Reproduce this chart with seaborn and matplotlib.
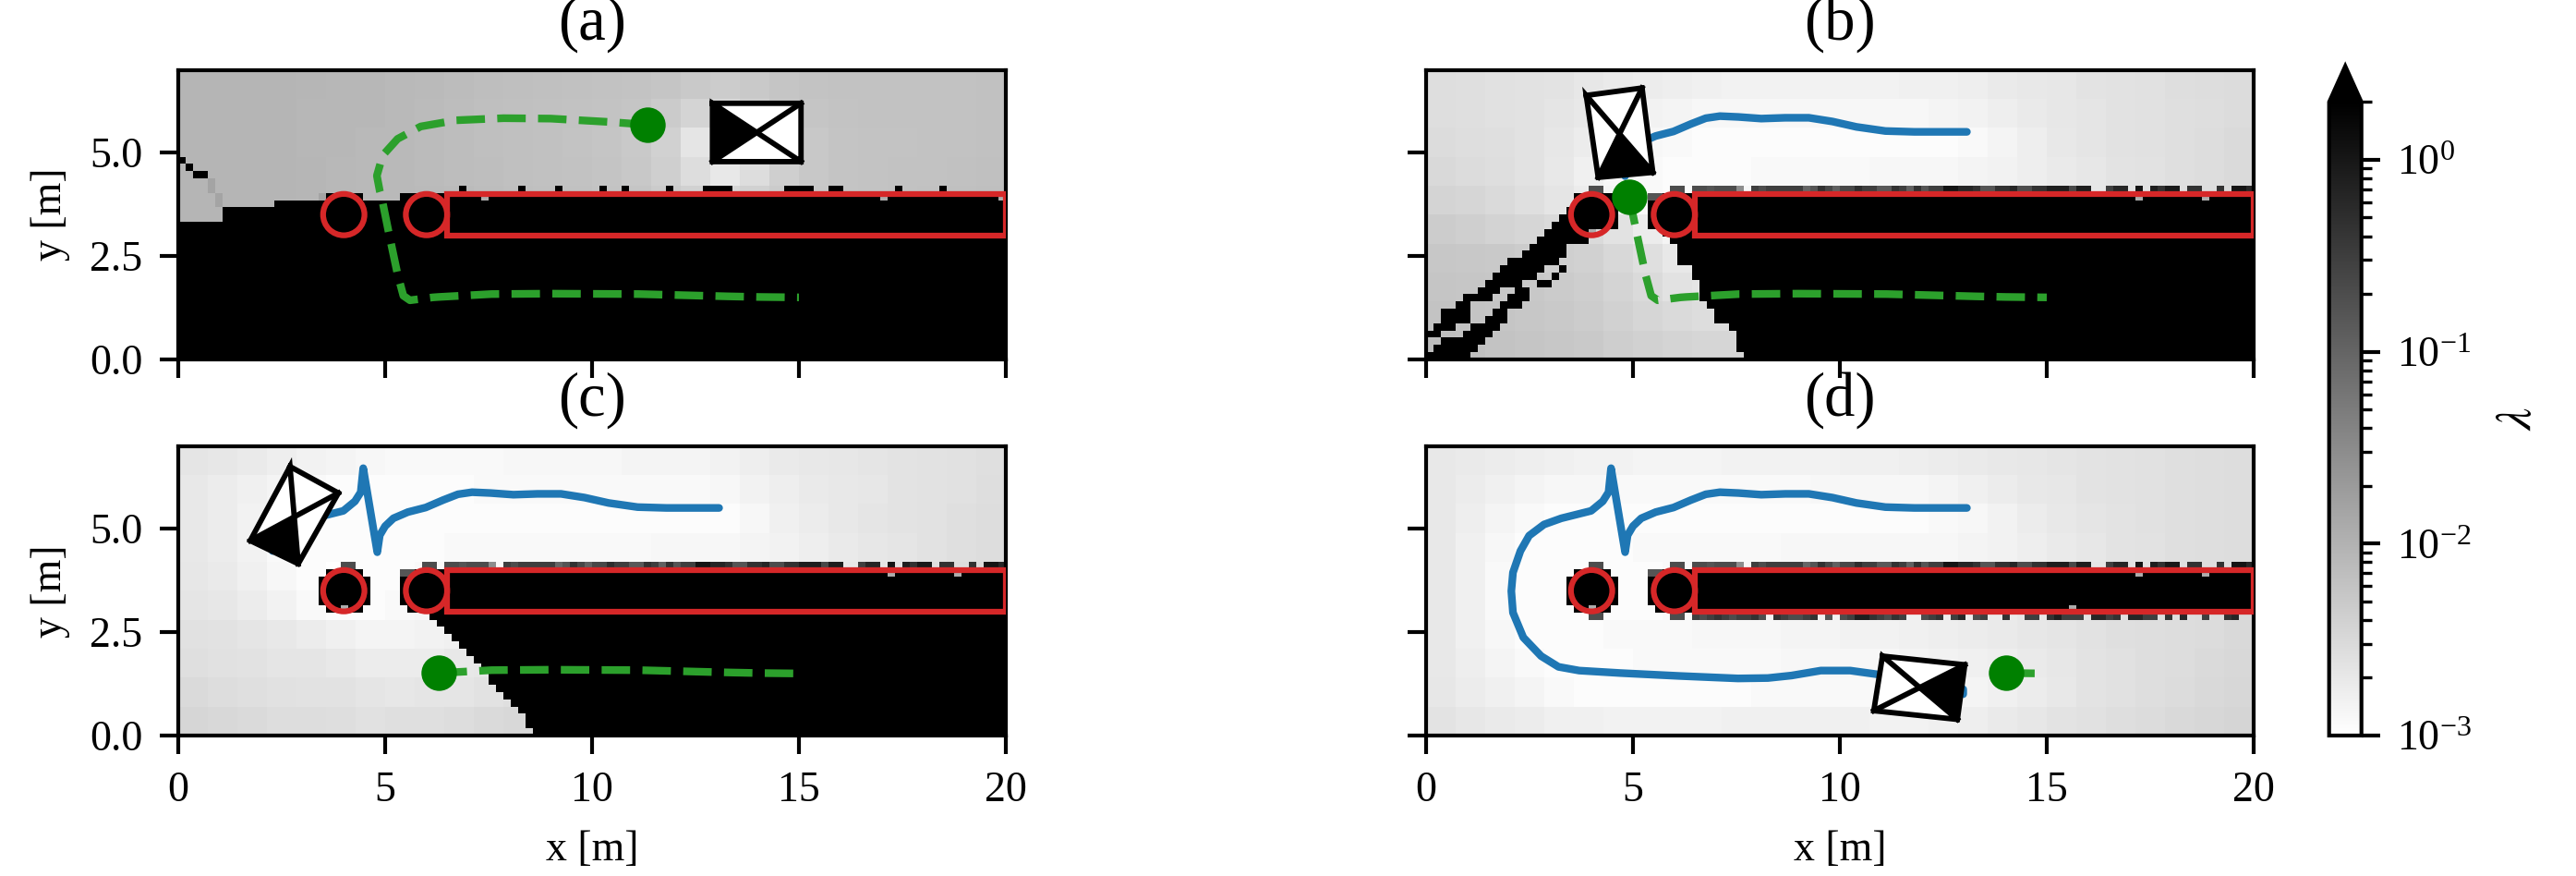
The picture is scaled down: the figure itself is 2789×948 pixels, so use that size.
import numpy as np
import matplotlib
matplotlib.use("Agg")
import matplotlib.pyplot as plt
from matplotlib.colors import LogNorm
from matplotlib.patches import Ellipse, Rectangle, Polygon
import seaborn as sns

sns.set_style("ticks")
plt.rcParams.update({
    "font.family": ["Liberation Serif", "DejaVu Serif"],
    "mathtext.fontset": "stix",
    "font.size": 11,
    "axes.linewidth": 1.0,
    "xtick.direction": "out", "ytick.direction": "out",
    "xtick.color": "black", "ytick.color": "black",
    "text.color": "black", "axes.labelcolor": "black", "axes.edgecolor": "black",
})

W, H, DPI = 2789, 948, 300
NX, NY = 112, 40
X_MAX, Y_MAX = 20.0, 7.0
PANELS = ["(a)", "(b)", "(c)", "(d)"]
X_TICKS = [0, 5, 10, 15, 20]
Y_TICKS = [0.0, 2.5, 5.0]
LAMBDA_MIN, LAMBDA_MAX, LAMBDA_BLOCKED = 1e-3, 2.0, 3.0

# lambda field backgrounds, units of 1e-4, rows from the top, blocks of 4 x 4 cells
FIELD_A = [
    [90,90,90,90,88,85,85,82,78,74,70,68,66,64,62,60,56,50,46,50,56,60,62,62,62,62,62,64],
    [90,90,90,90,86,85,85,80,76,72,68,66,64,62,60,56,48,36,28,36,48,56,60,62,62,62,62,64],
    [90,90,90,90,86,85,82,80,76,72,68,66,64,60,56,50,40,22,14,22,40,52,58,60,60,62,62,64],
    [90,90,90,90,88,84,80,80,76,72,70,66,64,62,58,52,42,28,20,28,42,52,58,60,62,62,64,66],
    [90,90,90,90,88,84,80,80,78,76,72,68,66,64,60,56,48,40,34,40,48,54,58,60,62,64,66,68],
    [90,90,90,90,88,84,80,80,78,76,74,72,68,64,60,56,52,50,50,52,54,56,60,62,64,68,70,72],
]
FIELD_B = [
    [27,26,25,24,23,21,19,18,17,16,15,15,15,15,15,15,16,16,17,19,20,21,23,24,25,27,28,29],
    [27,26,25,24,22,20,17,15,14,13,13,13,13,13,13,13,13,14,15,17,19,21,22,24,25,26,27,29],
    [29,27,26,24,21,18,15,13,12,11,11,11,11,11,11,11,11,11,12,14,17,20,22,24,25,26,28,30],
    [31,29,27,24,20,16,13,12,11,11,11,12,12,12,12,13,13,13,14,15,17,19,21,23,24,26,28,30],
    [36,34,30,26,22,18,14,12,11,12,13,14,14,14,14,14,14,14,14,15,17,19,21,23,24,26,28,30],
    [46,42,38,34,30,30,24,18,14,13,14,15,16,16,16,16,16,16,16,16,18,20,22,24,26,28,30,32],
    [53,52,50,46,42,40,32,26,20,17,16,17,20,22,22,22,22,22,22,22,22,22,22,24,26,28,30,32],
    [56,55,54,52,48,44,36,30,24,22,21,22,26,30,30,30,30,30,30,30,30,30,30,30,30,30,30,32],
    [60,58,56,54,50,46,40,34,30,28,28,30,34,38,38,38,38,38,38,38,38,38,38,38,38,38,38,38],
    [70,66,60,56,54,50,44,40,36,34,34,38,44,50,50,50,50,50,50,50,50,50,50,50,50,50,50,50],
]
FIELD_C = [
    [22,21,19,17,15,14,13,12,12,12,12,13,13,13,13,14,14,14,15,17,19,20,21,22,23,24,25,26],
    [20,18,16,14,12,11,11,11,11,11,12,12,12,12,12,12,12,12,13,15,17,19,20,21,23,24,25,27],
    [20,18,15,13,11,11,11,11,11,11,11,11,11,11,11,11,11,11,11,13,16,18,20,22,23,24,26,28],
    [20,18,15,12,11,11,11,11,11,12,12,12,12,12,12,12,13,13,13,14,15,17,19,21,22,24,26,28],
    [21,19,16,13,11,10,11,11,12,12,12,12,13,13,13,13,14,14,14,15,16,18,20,22,24,26,28,30],
    [22,21,18,15,12,11,11,12,13,14,14,15,15,15,15,15,15,15,15,15,15,15,15,15,15,15,15,15],
    [25,24,22,20,18,16,14,14,15,16,17,19,21,23,23,23,23,23,23,23,23,23,23,23,23,23,23,23],
    [26,25,24,22,22,20,18,18,18,20,21,23,27,30,30,30,30,30,30,30,30,30,30,30,30,30,30,30],
    [30,28,26,25,24,24,22,21,22,22,24,26,30,36,36,36,36,36,36,36,36,36,36,36,36,36,36,36],
    [34,32,30,28,28,27,25,26,26,28,30,32,36,46,46,46,46,46,46,46,46,46,46,46,46,46,46,46],
]
FIELD_D = [
    [20,19,18,17,16,15,15,14,14,14,15,15,15,15,16,16,17,18,19,20,21,22,23,24,25,26,27,28],
    [20,18,16,14,13,13,12,12,12,12,12,12,12,13,13,13,13,14,16,18,20,21,23,24,25,26,27,28],
    [20,17,14,12,11,11,11,11,11,11,11,11,11,11,11,11,11,12,13,15,18,20,22,23,25,26,27,28],
    [20,16,13,11,11,11,11,12,12,12,12,12,13,13,13,13,13,13,14,15,17,19,21,23,24,26,27,28],
    [20,16,12,11,11,11,11,11,12,12,13,13,14,14,14,15,15,15,16,17,18,20,22,24,25,26,27,29],
    [20,16,12,11,11,11,11,11,12,13,14,14,15,15,15,16,16,17,17,18,20,22,23,25,26,27,28,30],
    [20,16,13,11,11,11,12,12,12,13,13,13,14,14,15,15,16,17,18,19,21,22,24,26,27,28,29,31],
    [20,17,14,12,11,11,11,12,12,12,12,12,13,13,13,13,14,15,16,17,19,21,23,25,27,28,30,32],
    [21,18,16,14,12,11,11,11,11,11,11,12,12,12,12,12,12,13,14,16,18,20,23,25,27,29,31,33],
    [23,21,19,18,16,16,15,15,15,15,16,16,16,16,16,15,15,16,17,19,21,23,25,27,29,31,33,35],
]

# blocked cell runs: (row from bottom, first col, end col)
WALL_RUNS = [(r, 36, NX) for r in range(17, 23)]
OBSTACLE_RUNS = [(18,19,26),(19,19,26),(20,19,26),(21,19,26),(17,20,25),(22,20,25),
                 (18,30,36),(19,30,36),(20,30,36),(21,30,36),(22,32,36),(17,31,36)]
RUNS_A = [(r, 0, NX) for r in range(0, 19)] + [(19,6,NX),(20,6,NX),(21,13,NX),(22,20,25),(22,30,36),
          (27,0,1),(26,1,2),(25,2,4)]
RUNS_B = [(0,0,6),(1,1,7),(2,2,8),(3,0,2),(3,5,9),(4,1,4),(4,6,10),(5,2,6),(5,8,11),(6,2,6),(6,9,11),
          (7,4,6),(7,10,13),(8,5,9),(8,11,14),(9,7,10),(9,12,14),(10,8,13),(10,15,17),(11,9,15),(11,17,18),
          (12,10,16),(12,18,19),(13,11,18),(14,13,19),(15,14,19),(16,15,22),(17,16,23),(18,17,26),
          (19,18,26),(20,19,26),(21,20,26),(22,20,26),
          (0,43,NX),(1,42,NX),(2,42,NX),(3,42,NX),(4,41,NX),(5,39,NX),(6,39,NX),(7,38,NX),(8,37,NX),
          (9,37,NX),(10,37,NX),(11,36,NX),(12,36,NX),(13,34,NX),(14,34,NX),(15,34,NX),(16,33,NX),(17,32,NX),
          (18,30,36),(19,30,36),(20,30,36),(21,30,36),(22,32,36)]
RUNS_C = [(0,48,NX),(1,47,NX),(2,47,NX),(3,46,NX),(4,45,NX),(5,44,NX),(6,43,NX),(7,42,NX),(8,42,NX),
          (9,41,NX),(10,40,NX),(11,39,NX),(12,38,NX),(13,37,NX),(14,36,NX),(15,35,NX),(16,34,NX)]

# partly dark cells on the wall fringe, columns 36..111, 0 means no entry
FRINGE_TOP = [.2,.2,.16,.2,.2,.2,.03,0,.3,.2,.3,.3,.3,.3,.3,.095,.16,.44,.23,.11,.23,.23,.5,.3,.3,
              .14,.14,.44,.3,.11,.44,.16,.3,.3,1.09,1.09,.64,.64,.44,.16,.16,.44,.44,.64,.2,.2,.44,.44,
              .8,.8,.8,.23,.8,.8,0,0,.3,.64,.64,0,1.09,0,.8,.44,.93,.93,0,.44,.44,0,0,.44,0,1.09,1.09,.64]
FRINGE_BOTTOM = [.3,.2,.3,.44,.3,.2,.3,.3,.44,.2,0,.44,.3,.2,.2,.3,.44,0,.16,0,.2,.3,.8,.8,.44,
                 .3,.2,.44,.3,0,0,.2,.3,.44,0,.3,.64,0,.2,.3,0,0,.44,0,0,.3,.3,0,.44,.8,.3,.3,.3,
                 0,.64,.64,.3,.44,0,.64,.64,.3,.3,0,.44,0,.64,0,0,.3,0,0,.44,.64,0,0][:76]
FRINGE_SIDE_COLS = [22, 23, 33, 34]
FRINGE_SIDE_VALUE = 0.2
FRINGE_A_COLS = [38,46,51,57,60,66,71,72,73,74,82,83,84,85,88,89,97,103]
LIGHT_CELLS_A = [(22,41),(22,95),(22,111)]
LIGHT_CELLS_BCD = [(22,96),(22,105),(17,22)]
LIGHT_CELLS_D = [(17,87)]
LIGHT_VALUE = 0.012
DARK_CELLS_A = [(24,4),(23,4),(22,5),(21,5),(22,19)]
DARK_VALUE_A = 0.015
GAP_GRAY_CELLS = [(22,30),(22,31)]
GAP_GRAY_VALUE = 0.16

# tracked path, start to end
PATH_X = [13.07,11.8,11.1,10.4,9.82,9.25,8.68,8.1,7.55,7.1,6.76,6.4,5.98,5.55,5.2,5.0,4.87,4.81,
          4.47,4.41,4.27,3.99,3.27,2.85,2.49,2.28,2.1,2.06,2.1,2.35,2.78,3.2,3.7,4.7,6.12,7.54,8.26,
          8.83,9.54,10.25,10.9,12.0,12.98,12.98]
PATH_Y = [5.5,5.5,5.52,5.62,5.75,5.84,5.84,5.82,5.86,5.88,5.83,5.69,5.51,5.4,5.25,5.06,4.84,4.43,
          6.46,5.88,5.66,5.43,5.25,5.1,4.83,4.46,3.94,3.49,2.97,2.37,1.92,1.66,1.57,1.51,1.44,1.38,1.39,
          1.45,1.57,1.57,1.48,1.25,1.12,1.0]
PATH_POINTS_SHOWN = [0, 18, 26, 44]

# reference path, first point is the goal in (a), last point the end at x = 15
REF_X = [11.35,10.4,9.0,7.86,6.72,5.86,5.3,4.94,4.8,4.87,4.91,5.08,5.3,5.44,5.6,6.15,6.29,7.57,9.0,11.13,13.27,14.02,15.0]
REF_Y = [5.67,5.74,5.82,5.83,5.78,5.63,5.33,4.93,4.44,4.07,3.94,3.1,2.06,1.54,1.43,1.5,1.51,1.58,1.59,1.58,1.525,1.51,1.5]
REF_FIRST_POINT = [0, 10, 16, 21]
GOAL_X = [11.35, 4.91, 6.29, 14.02]
GOAL_Y = [5.67, 3.94, 1.51, 1.51]

# robot outline corners: TL, TR, BR, BL, and the index pair of the black triangle side
ROBOT_X = [[12.91,15.05,15.05,12.91],[3.87,5.22,5.48,4.16],[2.7,3.87,2.9,1.74],[11.03,13.02,12.84,10.82]]
ROBOT_Y = [[6.19,6.19,4.78,4.78],[6.38,6.56,4.52,4.40],[6.5,5.86,4.15,4.71],[1.92,1.71,0.39,0.6]]
ROBOT_BLACK_SIDE = [(3,0),(2,3),(3,2),(1,2)]

OBST_CENTERS_X = [4.0, 6.0]
OBST_CENTER_Y = 3.5
OBST_RADIUS = 0.5
WALL_X0, WALL_Y0, WALL_X1, WALL_Y1 = 6.5, 3.0, 20.0, 4.0

SX, SY = NX / X_MAX, NY / Y_MAX


def make_field(table, runs):
    t = np.array(table, dtype=float)[::-1] * 1e-4
    g = np.full((NY, NX), LAMBDA_BLOCKED)
    block = np.repeat(np.repeat(t, 4, axis=0), 4, axis=1)
    g[NY - block.shape[0]:, :] = block
    for r, c0, c1 in runs:
        g[r, c0:c1] = LAMBDA_BLOCKED
    return g


def apply_fringe(g, row, values):
    for c, v in zip(range(36, NX), values):
        if v > 0:
            g[row, c] = v
    for c in FRINGE_SIDE_COLS:
        g[row, c] = FRINGE_SIDE_VALUE


field_a = make_field(FIELD_A, RUNS_A + WALL_RUNS)
for c in FRINGE_A_COLS:
    field_a[23, c] = LAMBDA_BLOCKED
for r, c in LIGHT_CELLS_A:
    field_a[r, c] = LIGHT_VALUE
for r, c in DARK_CELLS_A:
    field_a[r, c] = DARK_VALUE_A

field_b = make_field(FIELD_B, RUNS_B + WALL_RUNS)
apply_fringe(field_b, 23, FRINGE_TOP)
field_c = make_field(FIELD_C, RUNS_C + WALL_RUNS + OBSTACLE_RUNS)
apply_fringe(field_c, 23, FRINGE_TOP)
field_d = make_field(FIELD_D, WALL_RUNS + OBSTACLE_RUNS)
apply_fringe(field_d, 23, FRINGE_TOP)
apply_fringe(field_d, 16, FRINGE_BOTTOM)
for g in (field_b, field_c, field_d):
    for r, c in LIGHT_CELLS_BCD:
        g[r, c] = LIGHT_VALUE
    for r, c in GAP_GRAY_CELLS:
        g[r, c] = GAP_GRAY_VALUE
for r, c in LIGHT_CELLS_D:
    field_d[r, c] = LIGHT_VALUE
FIELDS = [field_a, field_b, field_c, field_d]

fig = plt.figure(figsize=(W / DPI, H / DPI), dpi=DPI)


def box(l, t, r, b):
    return [l / W, 1 - b / H, (r - l) / W, (b - t) / H]


AX_BOXES = [box(193, 75.5, 1089, 389), box(1544, 75.5, 2440, 389),
            box(193, 482.5, 1089, 796), box(1544, 482.5, 2440, 796)]
cax = fig.add_axes(box(2521.7, 71.4, 2556.7, 796))
cmap = plt.get_cmap("gray_r").copy()
cmap.set_over("black")
norm = LogNorm(vmin=LAMBDA_MIN, vmax=LAMBDA_MAX)

for i, (title, pos, field) in enumerate(zip(PANELS, AX_BOXES, FIELDS)):
    ax = fig.add_axes(pos)
    last = i == 3
    sns.heatmap(field, ax=ax, cmap=cmap, norm=norm, cbar=last,
                cbar_ax=cax if last else None,
                cbar_kws={"extend": "max", "extendfrac": 0.0568} if last else None,
                xticklabels=False, yticklabels=False)
    ax.set_xlim(0, NX)
    ax.set_ylim(0, NY)

    n = PATH_POINTS_SHOWN[i]
    if n:
        sns.lineplot(x=np.array(PATH_X[:n]) * SX, y=np.array(PATH_Y[:n]) * SY, sort=False, estimator=None,
                     color="#1f77b4", linewidth=2, ax=ax, legend=False, zorder=4)
    k = REF_FIRST_POINT[i]
    sns.lineplot(x=np.array(REF_X[k:]) * SX, y=np.array(REF_Y[k:]) * SY, sort=False, estimator=None,
                 color="#2ca02c", linewidth=2, linestyle="--", ax=ax, legend=False, zorder=4)

    for cx in OBST_CENTERS_X:
        ax.add_patch(Ellipse((cx * SX, OBST_CENTER_Y * SY), 2 * OBST_RADIUS * SX, 2 * OBST_RADIUS * SY,
                             fill=False, edgecolor="#d62728", linewidth=1.5, zorder=5))
    ax.add_patch(Rectangle((WALL_X0 * SX, WALL_Y0 * SY), (WALL_X1 - WALL_X0) * SX, (WALL_Y1 - WALL_Y0) * SY,
                           fill=False, edgecolor="#d62728", linewidth=1.5, zorder=5))

    sns.scatterplot(x=[GOAL_X[i] * SX], y=[GOAL_Y[i] * SY], color="green", s=85, linewidth=0, ax=ax,
                    legend=False, zorder=6)

    # robot
    rx = np.array(ROBOT_X[i]) * SX
    ry = np.array(ROBOT_Y[i]) * SY
    mx, my = rx.mean(), ry.mean()
    ax.add_patch(Polygon(np.c_[rx, ry], closed=True, facecolor="white", edgecolor="none", zorder=7))
    a, b = ROBOT_BLACK_SIDE[i]
    ax.add_patch(Polygon([[rx[a], ry[a]], [rx[b], ry[b]], [mx, my]], closed=True, facecolor="black",
                         edgecolor="none", zorder=7))
    order = [0, 1, 2, 3, 0, 2]
    ax.plot(rx[order], ry[order], color="black", lw=1.4, solid_joinstyle="miter", solid_capstyle="projecting", zorder=8)
    ax.plot(rx[[3, 1]], ry[[3, 1]], color="black", lw=1.4, solid_capstyle="projecting", zorder=8)

    ax.set_xlim(0, NX)
    ax.set_ylim(0, NY)
    for s in ax.spines.values():
        s.set_visible(True)
        s.set_linewidth(1.0)
        s.set_color("black")
    ax.set_xticks(np.array(X_TICKS) * SX)
    ax.set_yticks(np.array(Y_TICKS) * SY)
    ax.tick_params(axis="both", length=4.7, width=1.0, labelsize=11, pad=4.6, rotation=0)
    ax.set_xticklabels([str(v) for v in X_TICKS] if i >= 2 else [])
    ax.set_yticklabels([f"{v:.1f}" for v in Y_TICKS] if i % 2 == 0 else [])
    ax.set_xlabel("x [m]" if i >= 2 else "", fontsize=11, labelpad=5, visible=True)
    ax.set_ylabel("y [m]" if i % 2 == 0 else "", fontsize=11, labelpad=5, visible=True)
    ax.set_title(title, fontsize=16, pad=8)

    if last:
        cb = ax.collections[0].colorbar
        cb.outline.set_linewidth(1.0)
        cb.outline.set_edgecolor("black")
        cb.set_label(r"$\lambda$", fontsize=13, labelpad=6)
        cb.ax.tick_params(which="major", length=4.7, width=1.0, labelsize=11, pad=4.6)
        cb.ax.tick_params(which="minor", length=2.6, width=0.8)

fig.savefig("out.png", dpi=DPI)
